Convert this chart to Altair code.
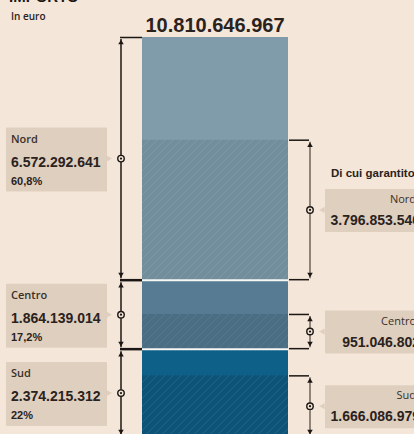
import altair as alt
import pandas as pd

# ---------------- data ----------------
regions = ["Nord", "Centro", "Sud"]
importo = [6572292641, 1864139014, 2374215312]
quota = ["60,8%", "17,2%", "22%"]
garantito = [3796853540, 951046802, 1666086979]
totale = 10810646967


def fmt(v):
    return f"{v:,}".replace(",", ".")


# stack order: Sud at the bottom, then Centro, then Nord
base = []
acc = 0
for v in reversed(importo):
    base.insert(0, acc)
    acc += v

df = pd.DataFrame({
    "region": regions,
    "importo": importo,
    "quota": quota,
    "garantito": garantito,
    "base": base,
})
df["top"] = df["base"] + df["importo"]
df["gtop"] = df["base"] + df["garantito"]
df["mid"] = (df["base"] + df["top"]) / 2
df["gmid"] = (df["base"] + df["gtop"]) / 2
df["label"] = df["importo"].map(fmt)
df["glabel"] = df["garantito"].map(fmt)

tot_df = pd.DataFrame({"tot": [totale], "label": [fmt(totale)]})

# ---------------- style ----------------
BG = "#f4e6d8"
BOX = "#dfcfbf"
DARK = "#1c1714"
TXT = "#2a221d"
NARROW = "'Liberation Sans', Arial, sans-serif"
SANS = "Open Sans"
light_colors = ["#809caa", "#577b92", "#0f6088"]
hatch_base = ["#728d9b", "#4c6e84", "#0d5377"]
hatch_stripe = ["#7e98a6", "#56788d", "#175d81"]

W_CHART, H_CHART = 414, 434
BAR_X0, BAR_X1 = 142, 288
BAR_PX = 400  # pixel height of the full bar
TOP_PX = 37   # pixel of bar top
k = BAR_PX / totale
dom_hi = totale + TOP_PX / k
dom_lo = totale - (H_CHART - TOP_PX) / k
yscale = alt.Scale(domain=[dom_lo, dom_hi], nice=False, zero=False)


def Y(f):
    return alt.Y(f"{f}:Q", scale=yscale, axis=None)


def Y2(f):
    return alt.Y2(f"{f}:Q")


base_chart = alt.Chart(df)

layers = []

# light (full) segments
layers.append(
    base_chart.mark_rect(clip=True).encode(
        x=alt.value(BAR_X0), x2=alt.value(BAR_X1),
        y=Y("base"), y2=Y2("top"),
        color=alt.Color("region:N", scale=alt.Scale(domain=regions, range=light_colors), legend=None),
    )
)


# hatched (guaranteed) segments
def hatch(c_base, c_stripe, W, H, period=8.0, sw=1.6):
    s = (W + H) / (W * W + H * H)
    total_c = W + H
    stops = []
    c = 0.0
    while c < total_c:
        t0 = c / total_c
        t1 = min((c + period - sw) / total_c, 1.0)
        t2 = min((c + period) / total_c, 1.0)
        stops += [(t0, c_base), (t1, c_base), (t1, c_stripe), (t2, c_stripe)]
        c += period
    return alt.LinearGradient(
        gradient="linear", x1=0, y1=0, x2=s * W, y2=s * H,
        stops=[alt.GradientStop(offset=o, color=col) for o, col in stops],
    )


for i, r in enumerate(regions):
    Wpx = BAR_X1 - BAR_X0
    Hpx = garantito[i] * k
    layers.append(
        base_chart.transform_filter(alt.datum.region == r).mark_rect(
            clip=True, color=hatch(hatch_base[i], hatch_stripe[i], Wpx, Hpx)
        ).encode(
            x=alt.value(BAR_X0), x2=alt.value(BAR_X1),
            y=Y("base"), y2=Y2("gtop"),
        )
    )

# white separators between segments
layers.append(
    base_chart.transform_filter(alt.datum.region != "Nord").mark_rule(
        color="#f7f7f5", strokeWidth=2, clip=True
    ).encode(x=alt.value(BAR_X0), x2=alt.value(BAR_X1), y=Y("top"))
)


def bracket(y_hi, y_lo, y_mid, xb, xbar, vcolor, tcolor):
    out = []
    out.append(base_chart.mark_rule(color=vcolor, strokeWidth=1.5, yOffset=2, y2Offset=-2, clip=True).encode(
        x=alt.value(xb), y=Y(y_hi), y2=Y2(y_lo)))
    out.append(base_chart.mark_rule(color=tcolor, strokeWidth=1.5, yOffset=0.5, clip=True).encode(
        x=alt.value(xb - 1), x2=alt.value(xbar), y=Y(y_hi)))
    out.append(base_chart.mark_rule(color=tcolor, strokeWidth=1.5, yOffset=-0.5, clip=True).encode(
        x=alt.value(xb - 1), x2=alt.value(xbar), y=Y(y_lo)))
    out.append(base_chart.mark_point(shape="triangle-up", filled=True, color=tcolor, size=30, opacity=1,
                                     yOffset=5, clip=True).encode(x=alt.value(xb), y=Y(y_hi)))
    out.append(base_chart.mark_point(shape="triangle-down", filled=True, color=tcolor, size=30, opacity=1,
                                     yOffset=-5, clip=True).encode(x=alt.value(xb), y=Y(y_lo)))
    out.append(base_chart.mark_point(shape="circle", fill=BG, stroke=DARK, strokeWidth=1.4, size=42,
                                     opacity=1, fillOpacity=1, clip=True).encode(x=alt.value(xb), y=Y(y_mid)))
    out.append(base_chart.mark_point(shape="circle", filled=True, color=DARK, size=5, opacity=1,
                                     clip=True).encode(x=alt.value(xb), y=Y(y_mid)))
    return out


# left brackets (totale per area)
layers += bracket("top", "base", "mid", 121, BAR_X0, DARK, DARK)
# right brackets (garantito)
layers += bracket("gtop", "base", "gmid", 310, BAR_X1 + 1, "#6f635b", DARK)

# left boxes
layers.append(base_chart.mark_rect(color=BOX, yOffset=-31, y2Offset=33, cornerRadius=1, clip=True).encode(
    x=alt.value(6), x2=alt.value(107), y=Y("mid"), y2=Y2("mid")))
layers.append(base_chart.mark_point(shape="triangle-right", filled=True, color=BOX, size=45, opacity=1,
                                    clip=True).encode(x=alt.value(109), y=Y("mid")))
layers.append(base_chart.mark_text(align="left", baseline="alphabetic", font=SANS, fontWeight=600,
                                   fontSize=11, color="#3a2f28", dy=-16, clip=True).encode(
    x=alt.value(11), y=Y("mid"), text="region:N"))
layers.append(base_chart.mark_text(align="left", baseline="alphabetic", font=NARROW, fontWeight="bold",
                                   fontSize=14, color=TXT, dy=8, clip=True).encode(
    x=alt.value(11), y=Y("mid"), text="label:N"))
layers.append(base_chart.mark_text(align="left", baseline="alphabetic", font=NARROW, fontWeight="bold",
                                   fontSize=11, color=TXT, dy=26, clip=True).encode(
    x=alt.value(11), y=Y("mid"), text="quota:N"))

# right boxes
layers.append(base_chart.mark_rect(color=BOX, yOffset=-21, y2Offset=22, cornerRadius=1, clip=True).encode(
    x=alt.value(325), x2=alt.value(430), y=Y("gmid"), y2=Y2("gmid")))
layers.append(base_chart.mark_point(shape="triangle-left", filled=True, color=BOX, size=40, opacity=1,
                                    clip=True).encode(x=alt.value(322), y=Y("gmid")))
layers.append(base_chart.mark_text(align="right", baseline="alphabetic", font=SANS, fontWeight=500,
                                   fontSize=11, color="#3a2f28", dy=-7, clip=True).encode(
    x=alt.value(416), y=Y("gmid"), text="region:N"))
layers.append(base_chart.mark_text(align="right", baseline="alphabetic", font=NARROW, fontWeight="bold",
                                   fontSize=14, color=TXT, dy=15, clip=True).encode(
    x=alt.value(420), y=Y("gmid"), text="glabel:N"))

# total label above the bar
layers.append(alt.Chart(tot_df).mark_text(align="center", baseline="alphabetic", font=NARROW,
                                          fontWeight="bold", fontSize=20, color=TXT, dy=-5).encode(
    x=alt.value((BAR_X0 + BAR_X1) / 2), y=Y("tot"), text="label:N"))

# static texts
txt_df = pd.DataFrame({"t": ["IMPORTO", "In euro", "Di cui garantito"]})
layers.append(alt.Chart(txt_df).transform_filter(alt.datum.t == "IMPORTO").mark_text(
    align="left", baseline="alphabetic", font="Liberation Sans", fontWeight="bold", fontSize=15, color=DARK
).encode(x=alt.value(9), y=alt.value(2), text="t:N"))
layers.append(alt.Chart(txt_df).transform_filter(alt.datum.t == "In euro").mark_text(
    align="left", baseline="alphabetic", font=SANS, fontWeight=600, fontSize=10, color=TXT
).encode(x=alt.value(11), y=alt.value(20), text="t:N"))
layers.append(alt.Chart(txt_df).transform_filter(alt.datum.t == "Di cui garantito").mark_text(
    align="left", baseline="alphabetic", font=NARROW, fontWeight="bold", fontSize=11.5, color=TXT
).encode(x=alt.value(331), y=alt.value(177), text="t:N"))

chart = alt.layer(*layers).properties(
    width=W_CHART, height=H_CHART, padding=0, autosize=alt.AutoSizeParams(type="none"),
    background=BG,
).configure_view(stroke=None)

chart.save("out.html", embed_options={"renderer": "svg", "actions": False})
